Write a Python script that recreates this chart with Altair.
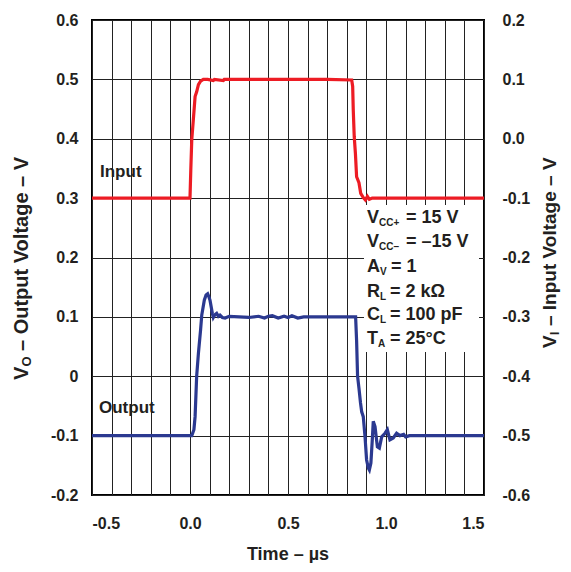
import altair as alt
import pandas as pd

# ---- data ----
# Input (red), right axis units (V)
t_in = [-0.5, 0.0, 0.004, 0.009, 0.017, 0.026, 0.034, 0.043, 0.054, 0.068, 0.09, 0.119, 0.125,
        0.17, 0.175, 0.3, 0.5, 0.7, 0.825, 0.830, 0.833, 0.838, 0.844, 0.850, 0.862, 0.871,
        0.884, 0.895, 0.905, 0.915, 0.93, 0.95, 1.5]
v_in = [-0.1, -0.1, -0.053, -0.002, 0.032, 0.071, 0.079, 0.091, 0.097, 0.100, 0.100, 0.098, 0.100,
        0.098, 0.100, 0.100, 0.100, 0.100, 0.099, 0.088, 0.048, 0.003, -0.025, -0.064, -0.074, -0.092,
        -0.099, -0.103, -0.097, -0.102, -0.100, -0.100, -0.100]

# Output (blue), left axis units (V)
t_out = [-0.5, 0.009, 0.02, 0.026, 0.034, 0.043, 0.054, 0.06, 0.073, 0.082, 0.09, 0.095, 0.102,
         0.114, 0.119, 0.128, 0.136, 0.145, 0.153, 0.165, 0.179, 0.2, 0.25, 0.3, 0.35, 0.38, 0.4,
         0.42, 0.45, 0.48, 0.5, 0.52, 0.55, 0.58, 0.62, 0.7, 0.8, 0.845, 0.85, 0.855, 0.862, 0.87,
         0.876, 0.884, 0.893, 0.901, 0.91, 0.915, 0.923, 0.93, 0.935, 0.944, 0.956, 0.966, 0.978,
         0.995, 1.007, 1.02, 1.037, 1.054, 1.071, 1.09, 1.1, 1.12, 1.5]
v_out = [-0.1, -0.1, -0.09, -0.068, 0.0, 0.039, 0.078, 0.103, 0.128, 0.137, 0.139, 0.135, 0.128,
         0.106, 0.099, 0.104, 0.106, 0.101, 0.103, 0.099, 0.098, 0.101, 0.100, 0.099, 0.101, 0.098, 0.101,
         0.102, 0.098, 0.101, 0.099, 0.102, 0.098, 0.100, 0.100, 0.100, 0.100, 0.100, 0.06, 0.0, -0.02, -0.045,
         -0.06, -0.068, -0.102, -0.141, -0.155, -0.158, -0.146, -0.107, -0.076, -0.085, -0.119, -0.121, -0.102,
         -0.096, -0.090, -0.107, -0.104, -0.096, -0.100, -0.098, -0.102, -0.100, -0.100]

x_ticks = [-0.5, -0.4, -0.3, -0.2, -0.1, 0.0, 0.1, 0.2, 0.3, 0.4, 0.5, 0.6, 0.7, 0.8, 0.9,
           1.0, 1.1, 1.2, 1.3, 1.4, 1.5]
yl_ticks = [-0.2, -0.1, 0.0, 0.1, 0.2, 0.3, 0.4, 0.5, 0.6]
yr_ticks = [-0.6, -0.5, -0.4, -0.3, -0.2, -0.1, 0.0, 0.1, 0.2]

cond_main = ["V", "V", "A", "R", "C", "T"]
cond_sub = ["CC+", "CC–", "V", "L", "L", "A"]
cond_rest = ["= 15 V", "= –15 V", "= 1", "= 2 kΩ", "= 100 pF", "= 25°C"]

FONT = "Liberation Sans"
INK = "#231f20"
RED = "#ED1C24"
BLUE = "#2B3990"

df_in = pd.DataFrame({"t": t_in, "v": v_in})
df_out = pd.DataFrame({"t": t_out, "v": v_out})
dummy = pd.DataFrame({"d": [0]})


def txt(s, x, y, size, dx=0, dy=0, angle=0, align="left"):
    return alt.Chart(dummy).mark_text(
        text=s, font=FONT, fontSize=size, fontWeight="bold", color=INK,
        align=align, baseline="middle", dx=dx, dy=dy, angle=angle
    ).encode(x=alt.value(x), y=alt.value(y))


x_enc = alt.X("t:Q", scale=alt.Scale(domain=[-0.5, 1.5], nice=False, zero=False),
              axis=alt.Axis(values=x_ticks, tickCount=40, title=None, grid=True, ticks=False, tickSize=0,
                            domain=False, labelPadding=20, labelOverlap=False,
                            labelExpr="abs(datum.value*2 - round(datum.value*2)) < 0.01 ? replace(format(datum.value, '.1f'), '\u2212', '-') : ''"))

box = alt.Chart(dummy).mark_rect(color="white").encode(
    x=alt.value(272), x2=alt.value(387), y=alt.value(185), y2=alt.value(332))

red = alt.Chart(df_in).mark_line(color=RED, strokeWidth=3.2).encode(
    x=x_enc,
    y=alt.Y("v:Q", scale=alt.Scale(domain=[-0.6, 0.2], nice=False, zero=False),
            axis=alt.Axis(orient="right", values=yr_ticks, tickCount=40, title=None, grid=False, ticks=False,
                          tickSize=0, domain=False, labelPadding=18, labelOverlap=False,
                          labelExpr="replace(format(datum.value, '.1f'), '\u2212', '-')")))

blue = alt.Chart(df_out).mark_line(color=BLUE, strokeWidth=3.2).encode(
    x=alt.X("t:Q"),
    y=alt.Y("v:Q", scale=alt.Scale(domain=[-0.2, 0.6], nice=False, zero=False),
            axis=alt.Axis(orient="left", values=yl_ticks, tickCount=40, title=None, grid=True, ticks=False,
                          tickSize=0, domain=False, labelPadding=14, labelOverlap=False,
                          labelExpr="datum.value == 0 ? '0' : replace(format(datum.value, '.1f'), '\u2212', '-')")))

layers = [box, red, blue]

# series labels
layers.append(txt("Input", 8, 152, 17))
layers.append(txt("Output", 7, 388, 17))

# conditions block
row_y = [198, 222, 247, 272, 295, 319]
main_w = [12, 12, 13, 13, 13, 11]
sub_w = [24, 24, 8, 7, 7, 9]
for m, s, r, y, mw, sw in zip(cond_main, cond_sub, cond_rest, row_y, main_w, sub_w):
    layers.append(txt(m, 275, y, 18))
    layers.append(txt(s, 275, y, 10, dx=mw, dy=5))
    layers.append(txt(r, 275, y, 18, dx=mw + sw + 3))

# axis titles (with subscripts)
layers.append(txt("V", -70, 360, 20, angle=270))
layers.append(txt("O", -70, 360, 13, dx=13.5, dy=5, angle=270))
layers.append(txt("– Output Voltage – V", -70, 360, 20, dx=29, angle=270))

layers.append(txt("V", 458, 328, 19, angle=270))
layers.append(txt("I", 458, 328, 12, dx=13, dy=5, angle=270))
layers.append(txt("– Input Voltage – V", 458, 328, 19, dx=22, angle=270))

layers.append(txt("Time – µs", 196, 535, 18, align="center"))

chart = alt.layer(*layers).resolve_scale(y="independent").properties(
    width=392, height=475,
    autosize=alt.AutoSizeParams(type="none"),
    padding={"left": 84, "top": 12, "right": 79, "bottom": 68},
).configure_view(stroke="black", strokeWidth=2).configure_axis(
    labelFont=FONT, labelFontSize=16, labelFontWeight="bold", labelColor=INK,
    gridColor="#222", gridWidth=1, gridOpacity=1,
)

chart.save("out.html", embed_options={"renderer": "svg", "actions": False})
